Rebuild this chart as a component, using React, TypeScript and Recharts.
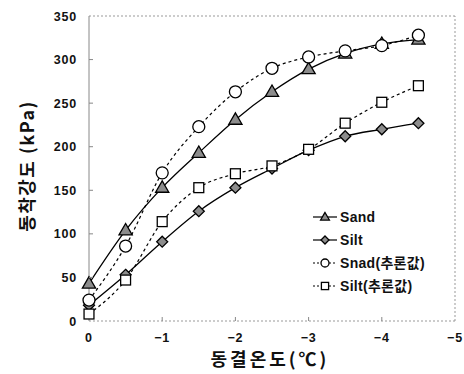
import React from 'react';
import { LineChart, Line, XAxis, YAxis, ReferenceLine, Label } from 'recharts';

const temps = [0, -0.5, -1, -1.5, -2, -2.5, -3, -3.5, -4, -4.5];
const sand = [43, 104, 153, 193, 231, 263, 289, 307, 318, 323];
const silt = [18, 53, 91, 126, 153, 175, 196, 212, 220, 227];
const sandEst = [24, 86, 170, 223, 263, 290, 303, 310, 316, 328];
const siltEst = [8, 47, 114, 153, 169, 178, 197, 227, 251, 270];

const xTicks = [0, -1, -2, -3, -4, -5];
const yTicks = [0, 50, 100, 150, 200, 250, 300, 350];

const seriesNames = ['Sand', 'Silt', 'Snad(추론값)', 'Silt(추론값)'];
const xTitle = '동결온도(℃)';
const yTitle = '동착강도 (kPa)';

const data = temps.map((t, i) => ({
  x: t,
  sand: sand[i],
  silt: silt[i],
  sandEst: sandEst[i],
  siltEst: siltEst[i],
}));

const FONT = "'Liberation Sans', Arial, 'Noto Sans CJK KR', sans-serif";
const KFONT = "'Noto Sans CJK KR', 'Liberation Sans', sans-serif";

type Shape = 'tri' | 'dia' | 'circ' | 'sq';

const marker = (shape: Shape, cx: number, cy: number, s: number, key?: any) => {
  if (cx == null || cy == null || isNaN(cx) || isNaN(cy)) return <g key={key} />;
  if (shape === 'tri') {
    const h = s * 0.95;
    return (
      <polygon key={key} points={`${cx},${cy - h * 0.6} ${cx - s * 0.55},${cy + h * 0.4} ${cx + s * 0.55},${cy + h * 0.4}`}
        fill="#8c8c8c" stroke="#000" strokeWidth={1.3} />
    );
  }
  if (shape === 'dia') {
    const r = s * 0.5;
    return (
      <polygon key={key} points={`${cx},${cy - r} ${cx + r},${cy} ${cx},${cy + r} ${cx - r},${cy}`}
        fill="#8c8c8c" stroke="#000" strokeWidth={1.3} />
    );
  }
  if (shape === 'circ') {
    return <circle key={key} cx={cx} cy={cy} r={s * 0.5} fill="#fff" stroke="#000" strokeWidth={1.3} />;
  }
  return <rect key={key} x={cx - s * 0.45} y={cy - s * 0.45} width={s * 0.9} height={s * 0.9} fill="#fff" stroke="#000" strokeWidth={1.3} />;
};

const dotFor = (shape: Shape, size: number) => (p: any) => marker(shape, p.cx, p.cy, size, p.key ?? `${shape}-${p.index}`);

const legendItems: { name: string; shape: Shape; dash: boolean }[] = [
  { name: seriesNames[0], shape: 'tri', dash: false },
  { name: seriesNames[1], shape: 'dia', dash: false },
  { name: seriesNames[2], shape: 'circ', dash: true },
  { name: seriesNames[3], shape: 'sq', dash: true },
];

const LegendBox = () => (
  <div style={{ position: 'absolute', left: 311, top: 205, display: 'flex', flexDirection: 'column' }}>
    {legendItems.map((it) => (
      <div key={it.name} style={{ display: 'flex', alignItems: 'center', height: 23 }}>
        <svg width={28} height={14} style={{ display: 'block' }}>
          <line x1={2} x2={26} y1={7} y2={7} stroke="#000" strokeWidth={1.2} strokeDasharray={it.dash ? '2 2' : undefined} />
          {marker(it.shape, 14, 7, 8)}
        </svg>
        <span style={{ fontFamily: FONT, fontWeight: 'bold', fontSize: 14, lineHeight: '16px', color: '#111', marginLeft: 1, letterSpacing: 0.3 }}>{it.name}</span>
      </div>
    ))}
  </div>
);

const YTick = (p: any) => {
  const { x, y, payload } = p;
  return (
    <g>
      <text x={x} y={y} dy="0.36em" textAnchor="end" fontFamily={FONT} fontWeight="bold" fontSize={12.5} letterSpacing={0.8} fill="#111">
        {payload.value}
      </text>
      {payload.value !== 0 && payload.value !== 350 && (
        <line x1={x + 12} x2={x + 16} y1={y} y2={y} stroke="#888" strokeWidth={1} />
      )}
    </g>
  );
};

const fmtX = (v: number) => (v === 0 ? '0' : '−' + Math.abs(v));

const XTick = (p: any) => {
  const { x, y, payload } = p;
  return (
    <g>
      <text x={x} y={y} dy="0.71em" textAnchor="middle" fontFamily={FONT} fontWeight="bold" fontSize={12.5} letterSpacing={0.8} fill="#111">
        {fmtX(payload.value)}
      </text>
      {payload.value !== 0 && payload.value !== -5 && (
        <line x1={x} x2={x} y1={y - 12} y2={y - 16} stroke="#888" strokeWidth={1} />
      )}
    </g>
  );
};

export default function App() {
  return (
    <div style={{ position: 'absolute', left: 0, top: 0, width: 464, height: 374, background: '#fff' }}>
      <LineChart width={464} height={374} data={data} margin={{ top: 16, right: 9, bottom: 0, left: 29 }}>
        <XAxis
          type="number"
          dataKey="x"
          domain={[-5, 0]}
          reversed
          ticks={xTicks}
          tick={<XTick />}
          tickSize={10}
          tickMargin={2}
          tickLine={false}
          height={53}
          axisLine={{ stroke: '#999', strokeDasharray: '2 2' }}
        >
          <Label
            content={(lp: any) => {
              const vb = lp.viewBox || {};
              return (
                <text x={vb.x + vb.width / 2 - 2} y={366} textAnchor="middle" fontFamily={KFONT} fontWeight="bold" fontSize={18} letterSpacing={3} fill="#111">
                  {xTitle}
                </text>
              );
            }}
          />
        </XAxis>
        <YAxis
          type="number"
          domain={[0, 350]}
          ticks={yTicks}
          tick={<YTick />}
          tickSize={10}
          tickMargin={2}
          tickLine={false}
          width={60}
          axisLine={{ stroke: '#888' }}
        >
          <Label
            content={() => (
              <text x={34} y={166} transform="rotate(-90 34 166)" textAnchor="middle" fontFamily={KFONT} fontWeight="bold" fontSize={18} letterSpacing={1.5} fill="#111">
                {yTitle}
              </text>
            )}
          />
        </YAxis>
        <ReferenceLine y={350} stroke="#999" strokeDasharray="2 2" />
        <ReferenceLine x={-5} stroke="#999" strokeDasharray="2 2" />
        <Line type="monotone" dataKey="sand" name={seriesNames[0]} stroke="#000" strokeWidth={1.3} dot={dotFor('tri', 12)} isAnimationActive={false} />
        <Line type="monotone" dataKey="silt" name={seriesNames[1]} stroke="#000" strokeWidth={1.3} dot={dotFor('dia', 11)} isAnimationActive={false} />
        <Line type="monotone" dataKey="sandEst" name={seriesNames[2]} stroke="#000" strokeWidth={1.2} strokeDasharray="3 3" dot={dotFor('circ', 12)} isAnimationActive={false} />
        <Line type="monotone" dataKey="siltEst" name={seriesNames[3]} stroke="#000" strokeWidth={1.2} strokeDasharray="3 3" dot={dotFor('sq', 11)} isAnimationActive={false} />
      </LineChart>
      <LegendBox />
    </div>
  );
}
